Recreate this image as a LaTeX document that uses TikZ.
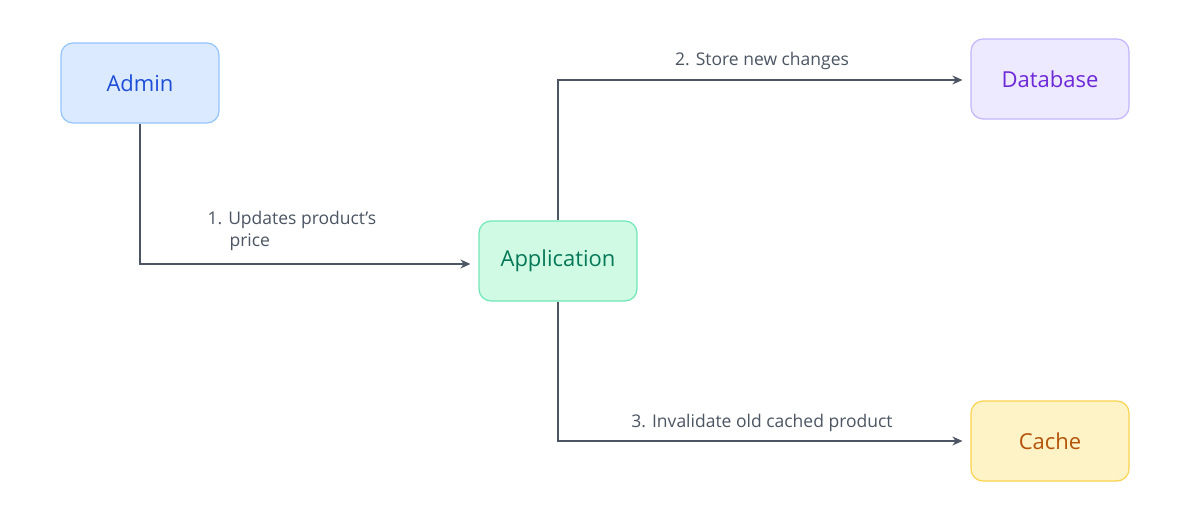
\documentclass[tikz,border=0pt]{standalone}
\usepackage{fontspec}
\setmainfont{Open Sans}
\usetikzlibrary{arrows.meta}
\definecolor{ab}{HTML}{DBEAFE}\definecolor{abd}{HTML}{93C5FD}\definecolor{abt}{HTML}{1D4ED8}
\definecolor{gb}{HTML}{D1FAE5}\definecolor{gbd}{HTML}{6EE7B7}\definecolor{gbt}{HTML}{047857}
\definecolor{pb}{HTML}{EDE9FE}\definecolor{pbd}{HTML}{C4B5FD}\definecolor{pbt}{HTML}{6D28D9}
\definecolor{yb}{HTML}{FEF3C7}\definecolor{ybd}{HTML}{FCD34D}\definecolor{ybt}{HTML}{B45309}
\definecolor{ln}{HTML}{4B5563}
\tikzset{box/.style={rounded corners=12pt,minimum width=158pt,minimum height=80pt,line width=1.2pt,font=\fontsize{22}{26}\selectfont},
conn/.style={draw=ln,line width=1.3pt,-{Stealth[length=10pt,width=9pt]}},
lbl/.style={text=ln,font=\fontsize{17.5}{22}\selectfont}}
\begin{document}
\begin{tikzpicture}[x=1pt,y=-1pt]
\useasboundingbox[fill=white] (0,0) rectangle (1190,526);
\node[box,fill=ab,draw=abd,text=abt] (admin) at (140,83) {Admin};
\node[box,fill=gb,draw=gbd,text=gbt] (app) at (558,261) {Application};
\node[box,fill=pb,draw=pbd,text=pbt] (db) at (1050,79) {Database};
\node[box,fill=yb,draw=ybd,text=ybt] (cache) at (1050,441) {Cache};
\draw[conn] (admin.south) |- ([xshift=-8pt,yshift=-3pt]app.west);
\draw[conn] (app.north) |- ([xshift=-8pt,yshift=-1pt]db.west);
\draw[conn] (app.south) |- ([xshift=-8pt]cache.west);
\node[lbl,align=left,anchor=north west] (l1) at (204,208) {1. Updates product’s\\\hspace{22pt}price};
\node[lbl] (l2) at (762,61) {2. Store new changes};
\node[lbl] (l3) at (762,423) {3. Invalidate old cached product};
\end{tikzpicture}
\end{document}
